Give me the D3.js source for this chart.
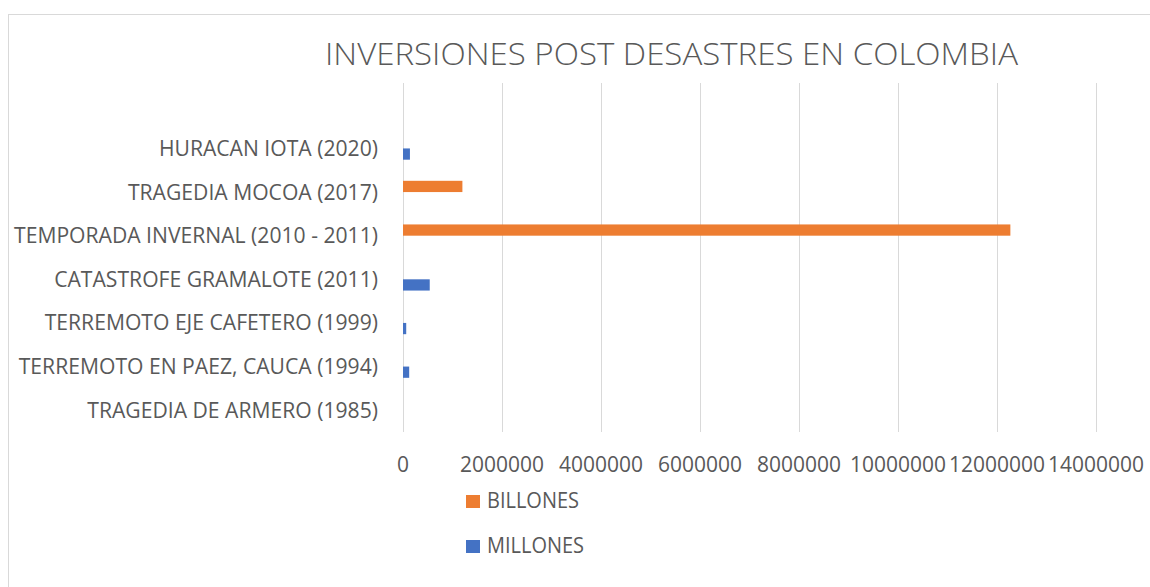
<!DOCTYPE html>
<html>
<head>
<meta charset="utf-8">
<script src="https://cdn.jsdelivr.net/npm/d3@7"></script>
<style>
  body { margin: 0; background: #fff; }
  text { font-family: "Open Sans", "Noto Sans", sans-serif; fill: #595959; }
</style>
</head>
<body>
<svg width="1150" height="587"></svg>
<script>
// categories top to bottom (first one is an empty slot, as in the sheet)
var categories = ["", "HURACAN IOTA (2020)", "TRAGEDIA MOCOA (2017)", "TEMPORADA INVERNAL (2010 - 2011)",
  "CATASTROFE GRAMALOTE (2011)", "TERREMOTO EJE CAFETERO (1999)", "TERREMOTO EN PAEZ, CAUCA (1994)",
  "TRAGEDIA DE ARMERO (1985)"];
var billones = [0, 0, 1200000, 12270000, 0, 0, 0, 0];
var millones = [0, 140000, 0, 0, 540000, 65000, 125000, 0];
var seriesNames = ["BILLONES", "MILLONES"];
var xTicks = [0, 2000000, 4000000, 6000000, 8000000, 10000000, 12000000, 14000000];
var title = "INVERSIONES POST DESASTRES EN COLOMBIA";

var colors = {BILLONES: "#ED7D31", MILLONES: "#4472C4"};
var svg = d3.select("svg");

// chart frame
svg.append("rect")
  .attr("x", 8.5).attr("y", 14.5)
  .attr("width", 1200).attr("height", 700)
  .attr("fill", "none").attr("stroke", "#d9d9d9");

var x = d3.scaleLinear().domain([0, 14000000]).range([403, 1096]);
var y = d3.scaleBand().domain(categories).range([83, 432]);
var inner = d3.scaleBand().domain(seriesNames)
  .range([y.bandwidth() / 2 - 11.25, y.bandwidth() / 2 + 11.25]);

// squeeze a group of texts so the reference one gets the target width
// (Calibri is narrower than the fonts we have)
function squeeze(sel, refSel, target) {
  var k = target / refSel.node().getComputedTextLength();
  sel.each(function() {
    var w = this.getComputedTextLength();
    if (w > 0) d3.select(this).attr("textLength", w * k).attr("lengthAdjust", "spacingAndGlyphs");
  });
}

// grid
svg.append("g").selectAll("line")
  .data(xTicks)
  .join("line")
  .attr("x1", function(d) { return Math.round(x(d)) + 0.5; })
  .attr("x2", function(d) { return Math.round(x(d)) + 0.5; })
  .attr("y1", 83).attr("y2", 432)
  .attr("stroke", "#d9d9d9").attr("stroke-width", 1);

// bars
var rows = categories.map(function(c, i) {
  return {cat: c, BILLONES: billones[i], MILLONES: millones[i]};
});
var g = svg.append("g");
rows.forEach(function(r) {
  seriesNames.forEach(function(s) {
    if (!r[s]) return;
    g.append("rect")
      .attr("x", x(0))
      .attr("y", y(r.cat) + inner(s))
      .attr("width", x(r[s]) - x(0))
      .attr("height", inner.bandwidth())
      .attr("fill", colors[s]);
  });
});

// category labels
var catLabels = svg.append("g").selectAll("text")
  .data(categories)
  .join("text")
  .attr("x", 378)
  .attr("y", function(d) { return y(d) + y.bandwidth() / 2; })
  .attr("dy", "0.36em")
  .attr("text-anchor", "end")
  .attr("font-size", 21)
  .text(function(d) { return d; });
squeeze(catLabels, catLabels.filter(function(d) { return d === categories[3]; }), 364);

// x tick labels
var tickLabels = svg.append("g").selectAll("text")
  .data(xTicks)
  .join("text")
  .attr("x", function(d) { return x(d); })
  .attr("y", 472)
  .attr("text-anchor", "middle")
  .attr("font-size", 21.5)
  .text(function(d) { return d3.format("d")(d); });
squeeze(tickLabels, tickLabels.filter(function(d) { return d === 2000000; }), 84);

// title
var t = svg.append("text")
  .attr("x", 671.5).attr("y", 65)
  .attr("text-anchor", "middle")
  .attr("font-size", 31)
  .attr("font-weight", 300)
  .text(title);
squeeze(t, t, 693);

// legend
var legend = svg.append("g").selectAll("g")
  .data(seriesNames)
  .join("g")
  .attr("transform", function(d, i) { return "translate(466," + (495 + i * 45) + ")"; });
legend.append("rect")
  .attr("width", 14).attr("height", 13)
  .attr("fill", function(d) { return colors[d]; });
var legText = legend.append("text")
  .attr("x", 21).attr("y", 13)
  .attr("font-size", 21)
  .text(function(d) { return d; });
squeeze(legText, legText.filter(function(d) { return d === "BILLONES"; }), 92);
</script>
</body>
</html>
